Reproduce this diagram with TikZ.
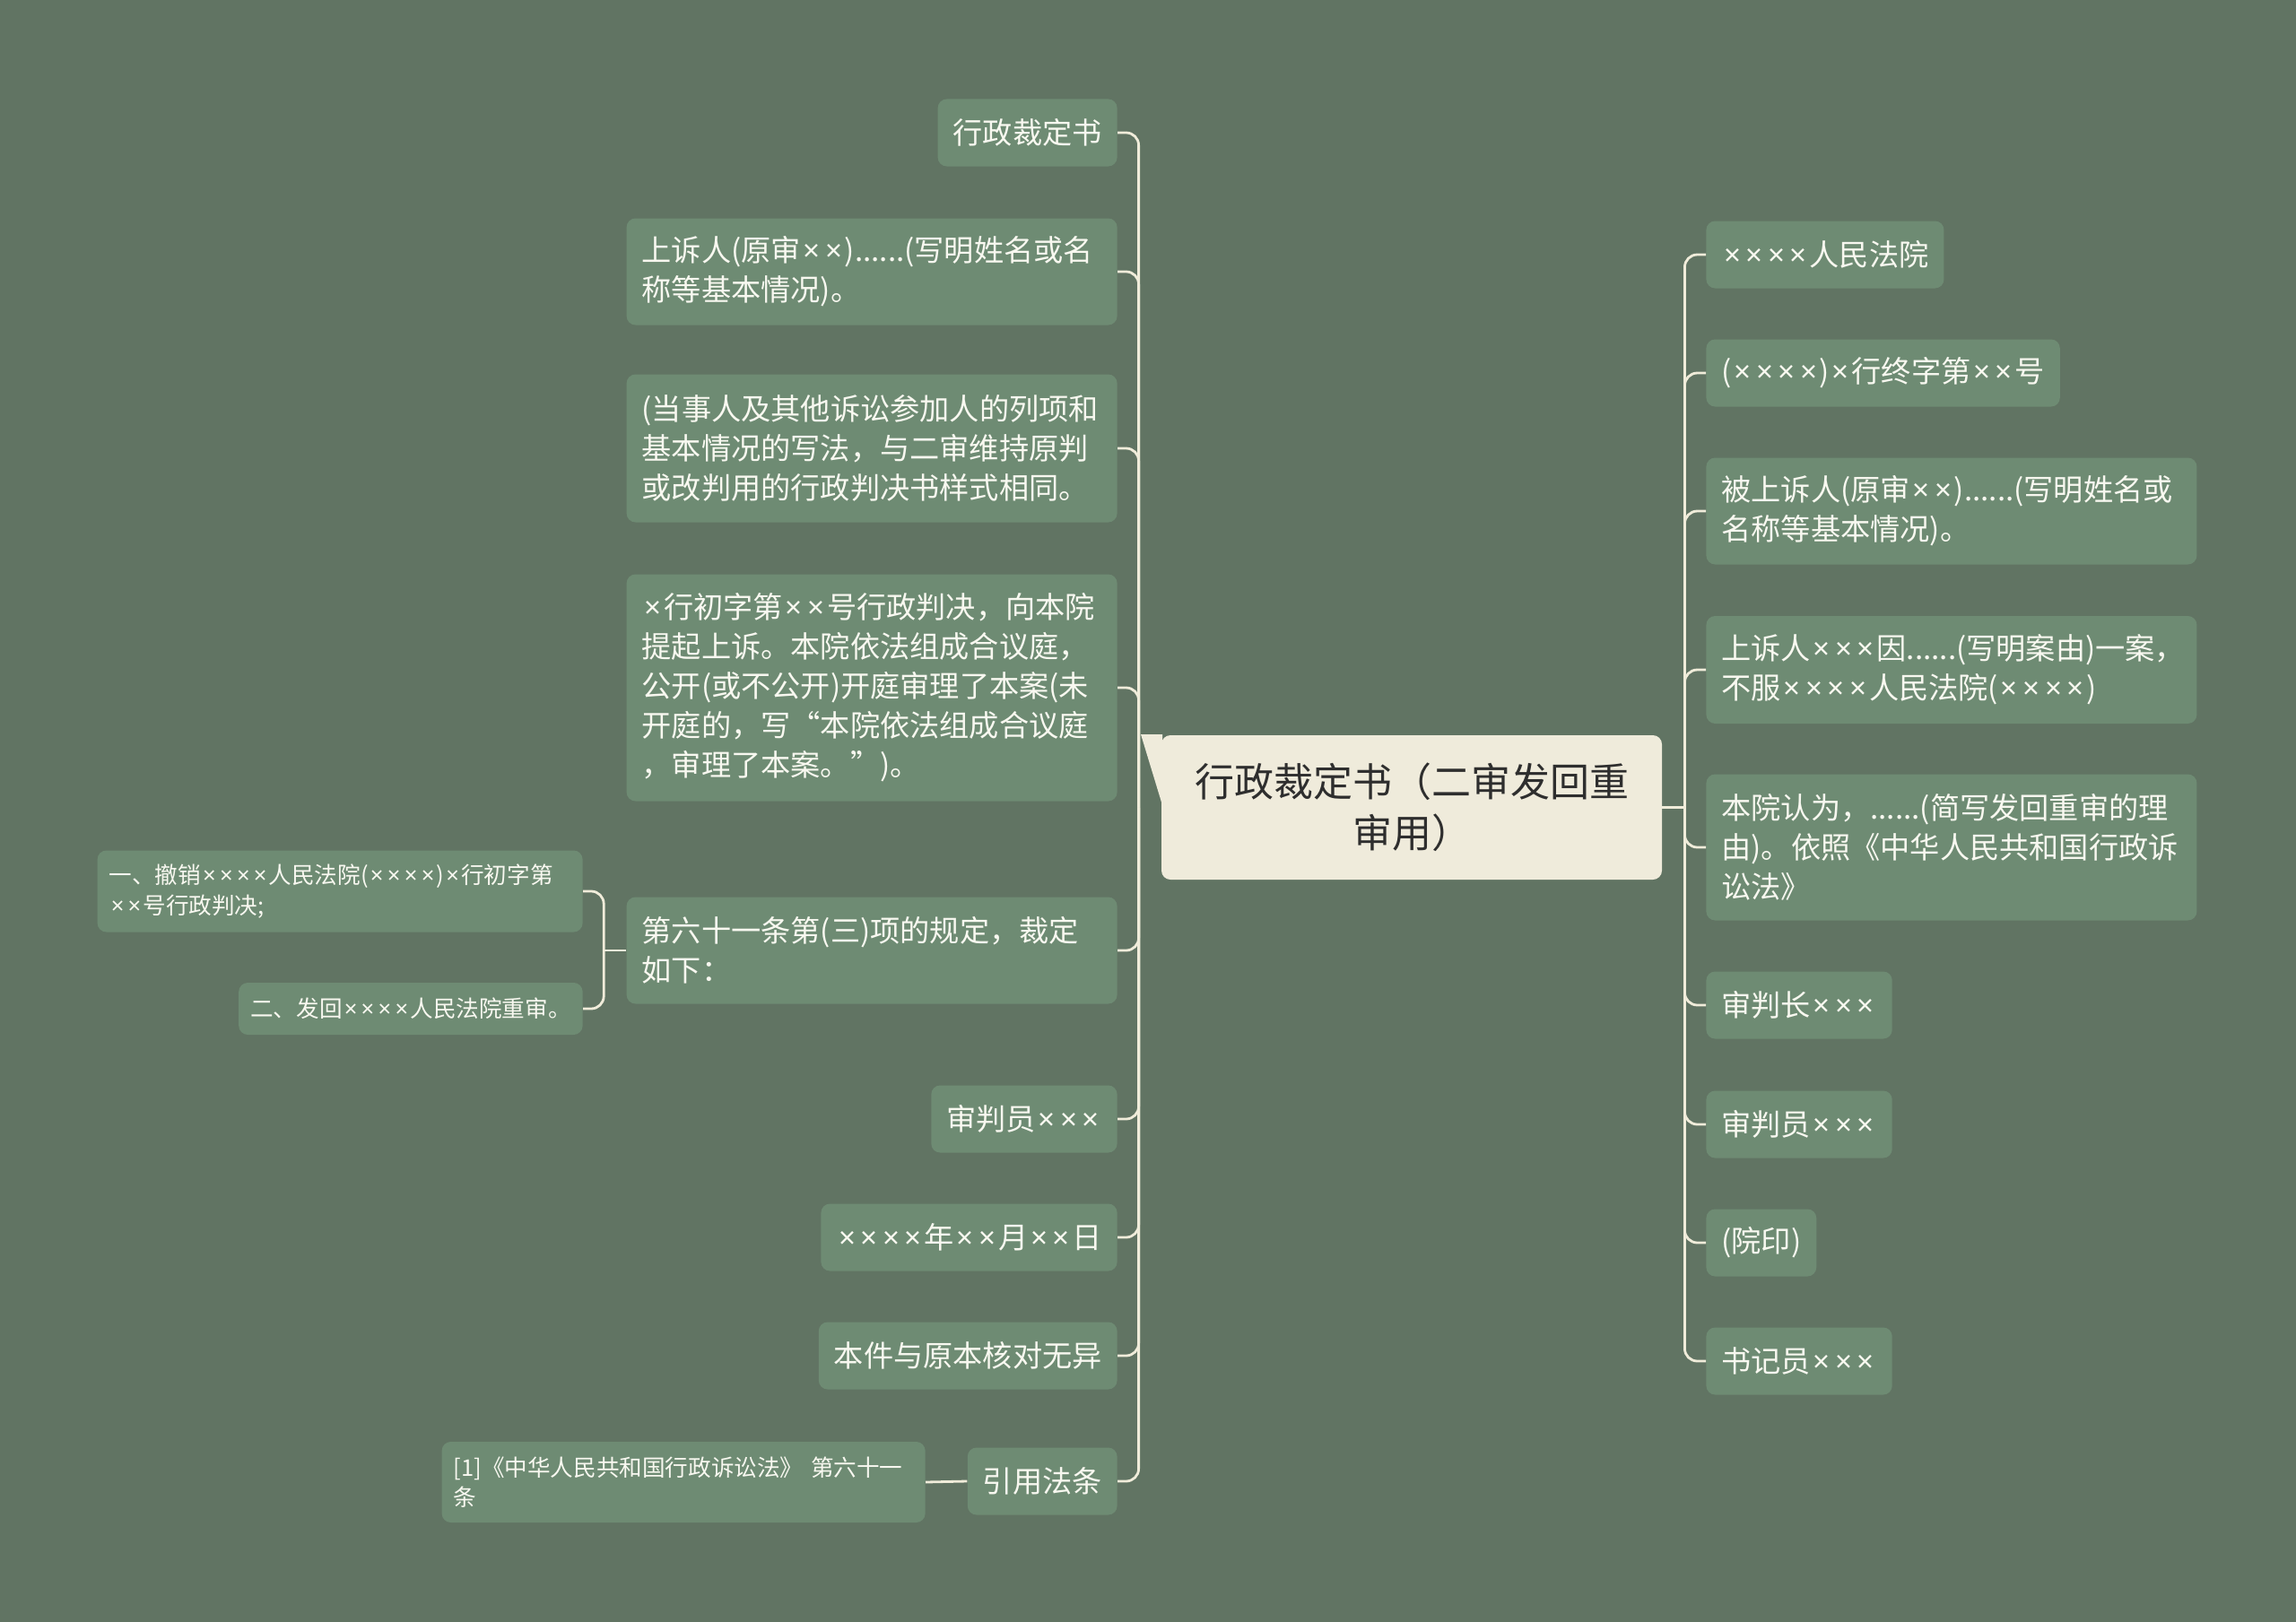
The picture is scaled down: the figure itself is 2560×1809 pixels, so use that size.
\documentclass[tikz,border=0pt]{standalone}
\usepackage{fontspec}
\setmainfont{Noto Sans CJK SC}
\newfontfamily\latinfont{Noto Sans}
\usepackage{xcolor}
\usepackage{tikz}

\definecolor{bgc}{HTML}{617463}
\definecolor{boxc}{HTML}{6E8B73}
\definecolor{linec}{HTML}{F0ECDA}
\definecolor{rootc}{HTML}{EFEBDB}
\definecolor{roottext}{HTML}{2E2E2E}
\definecolor{leaftext}{HTML}{F8F8F0}

\newcommand\tms{\leavevmode\hbox to 0.74em{\hss{\latinfont ×}\hss}}

\begin{document}
\begin{tikzpicture}[
  x=0.5pt, y=-0.5pt,
  every node/.style={inner sep=0pt},
  leafbox/.style={fill=boxc, text=leaftext, rounded corners=5pt, inner xsep=8.5pt,
    font=\fontsize{16.6}{22}\selectfont, minimum height=37.5pt},
  parabox/.style={leafbox, align=left, text width=256.5pt},
  notebox/.style={fill=boxc, text=leaftext, rounded corners=5pt, inner xsep=6.5pt,
    font=\fontsize{12.8}{16.8}\selectfont, minimum height=29pt},
  rootbox/.style={fill=rootc, text=roottext, rounded corners=5pt, align=center,
    minimum width=279pt, minimum height=80.5pt, font=\fontsize{22}{28.5}\selectfont},
  branch/.style={draw=linec, line width=1.4pt, rounded corners=7pt}
]
\fill[bgc] (0,0) rectangle (2560,1809);
\useasboundingbox (0,0) rectangle (2560,1809);

\fill[rootc] (1272,819) -- (1296,819) -- (1296,898) -- cycle;
\node (title) [rootbox] at (1574,900.5) {行政裁定书（二审发回重\\审用）};

\node (verdict)   [leafbox, anchor=east] at (1246,148) {行政裁定书};
\node (appellant) [parabox, anchor=east, minimum height=59.5pt] at (1246,303)
  {上诉人(原审\tms\tms)......(写明姓名或名\\称等基本情况)。};
\node (parties)   [parabox, anchor=east, minimum height=82.5pt] at (1246,500)
  {(当事人及其他诉讼参加人的列项和\\基本情况的写法，与二审维持原判\\或改判用的行政判决书样式相同。};
\node (hearing)   [parabox, anchor=east, minimum height=126.5pt] at (1246,767)
  {\tms 行初字第\tms\tms 号行政判决，向本院\\提起上诉。本院依法组成合议庭，\\公开(或不公开)开庭审理了本案(未\\开庭的，写“本院依法组成合议庭\\，审理了本案。”)。};
\node (ruling)    [parabox, anchor=east, minimum height=59.5pt] at (1246,1060)
  {第六十一条第(三)项的规定，裁定\\如下：};
\node (judgeL)    [leafbox, anchor=east] at (1246,1248) {审判员\tms\tms\tms};
\node (date)      [leafbox, anchor=east] at (1246,1380) {\tms\tms\tms\tms 年\tms\tms 月\tms\tms 日};
\node (copy)      [leafbox, anchor=east] at (1246,1512) {本件与原本核对无异};
\node (law)       [leafbox, anchor=east] at (1246,1652) {引用法条};

\node (revoke) [notebox, anchor=east, align=left, text width=257.5pt, minimum height=45.5pt] at (650,994)
  {一、撤销\tms\tms\tms\tms 人民法院(\tms\tms\tms\tms)\tms 行初字第\\\tms\tms 号行政判决;};
\node (remand) [notebox, anchor=east] at (650,1125) {二、发回\tms\tms\tms\tms 人民法院重审。};
\node (lawref) [notebox, anchor=east, align=left, text width=256.5pt, minimum height=45pt] at (1032,1653)
  {[1]《中华人民共和国行政诉讼法》 第六十一\\条};

\node (court)    [leafbox, anchor=west] at (1902,284) {\tms\tms\tms\tms 人民法院};
\node (caseno)   [leafbox, anchor=west] at (1902,416) {(\tms\tms\tms\tms)\tms 行终字第\tms\tms 号};
\node (appellee) [parabox, anchor=west, minimum height=59.5pt] at (1902,570)
  {被上诉人(原审\tms\tms)......(写明姓名或\\名称等基本情况)。};
\node (appeal)   [parabox, anchor=west, minimum height=60pt] at (1902,747)
  {上诉人\tms\tms\tms 因......(写明案由)一案，\\不服\tms\tms\tms\tms 人民法院(\tms\tms\tms\tms)};
\node (opinion)  [parabox, anchor=west, minimum height=81.5pt] at (1902,945)
  {本院认为，......(简写发回重审的理\\由)。依照《中华人民共和国行政诉\\讼法》};
\node (chief)    [leafbox, anchor=west] at (1902,1121) {审判长\tms\tms\tms};
\node (judgeR)   [leafbox, anchor=west] at (1902,1254) {审判员\tms\tms\tms};
\node (seal)     [leafbox, anchor=west] at (1902,1386) {(院印)};
\node (clerk)    [leafbox, anchor=west] at (1902,1518) {书记员\tms\tms\tms};

\coordinate (ltrunk) at ([xshift=-12.5pt]title.west);
\coordinate (rtrunk) at ([xshift=12.5pt]title.east);
\coordinate (ktrunk) at ([xshift=-12.5pt]ruling.west);

\draw[branch] (ltrunk) |- (verdict.east);
\draw[branch] (ltrunk) |- (appellant.east);
\draw[branch] (ltrunk) |- (parties.east);
\draw[branch] (ltrunk) |- (hearing.east);
\draw[branch] (ltrunk) |- (ruling.east);
\draw[branch] (ltrunk) |- (judgeL.east);
\draw[branch] (ltrunk) |- (date.east);
\draw[branch] (ltrunk) |- (copy.east);
\draw[branch] (ltrunk) |- (law.east);

\draw[branch] (ruling.west) -- (ktrunk);
\draw[branch] (ktrunk) |- (revoke.east);
\draw[branch] (ktrunk) |- (remand.east);
\draw[branch] (law.west) -- (lawref.east);

\draw[branch] (title.east) -- (rtrunk);
\draw[branch] (rtrunk) |- (court.west);
\draw[branch] (rtrunk) |- (caseno.west);
\draw[branch] (rtrunk) |- (appellee.west);
\draw[branch] (rtrunk) |- (appeal.west);
\draw[branch] (rtrunk) |- (opinion.west);
\draw[branch] (rtrunk) |- (chief.west);
\draw[branch] (rtrunk) |- (judgeR.west);
\draw[branch] (rtrunk) |- (seal.west);
\draw[branch] (rtrunk) |- (clerk.west);
\end{tikzpicture}
\end{document}
